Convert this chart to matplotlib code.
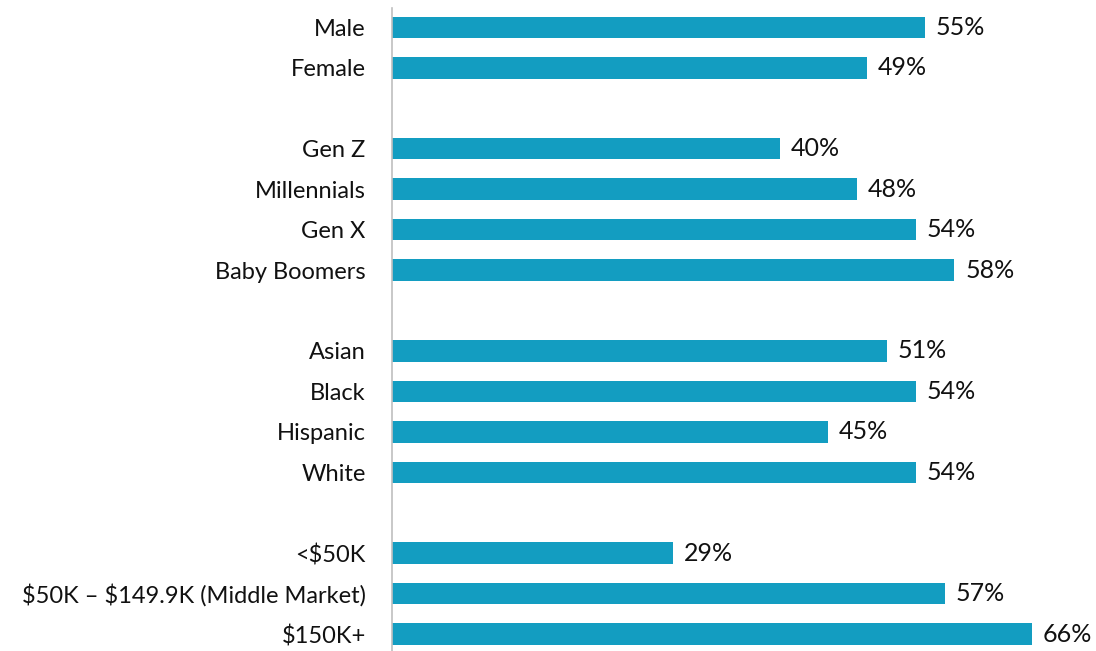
import matplotlib
matplotlib.use("Agg")
from matplotlib import pyplot as plt

plt.rcParams['font.family'] = ['Lato', 'DejaVu Sans']

# groups of categories, a blank slot between groups
gender = ["Male", "Female"]
gender_vals = [55, 49]
generation = ["Gen Z", "Millennials", "Gen X", "Baby Boomers"]
generation_vals = [40, 48, 54, 58]
ethnicity = ["Asian", "Black", "Hispanic", "White"]
ethnicity_vals = [51, 54, 45, 54]
income = ["<\\$50K", "\\$50K \u2013 \\$149.9K (Middle Market)", "\\$150K+"]
income_vals = [29, 57, 66]

groups = [(gender, gender_vals), (generation, generation_vals),
          (ethnicity, ethnicity_vals), (income, income_vals)]

labels = []
values = []
pos = []
slot = 0
for cats, vals in groups:
    for c, v in zip(cats, vals):
        labels.append(c)
        values.append(v)
        pos.append(slot)
        slot += 1
    slot += 1

bar_color = "#139DC1"

fig = plt.figure(figsize=(10.96, 6.51), dpi=100)
ax = fig.add_axes([392/1096, 0.0, 1 - 392/1096, 1 - 8/651])

ax.barh(pos, values, height=0.53, color=bar_color)
ax.set_xlim(0, 72.6)
ax.set_ylim(15.42, -0.48)

for p, v in zip(pos, values):
    ax.text(v + 1.1, p, f"{v}%", va="center", ha="left", fontsize=18, color="#111111")

ax.set_yticks(pos)
ax.set_yticklabels(labels, fontsize=17, color="#111111")
ax.tick_params(axis="y", length=0, pad=19)
ax.set_xticks([])
for s in ["top", "right", "bottom"]:
    ax.spines[s].set_visible(False)
ax.spines["left"].set_color("#BFBFBF")
ax.spines["left"].set_linewidth(1.2)

fig.savefig("out.png", dpi=100)
